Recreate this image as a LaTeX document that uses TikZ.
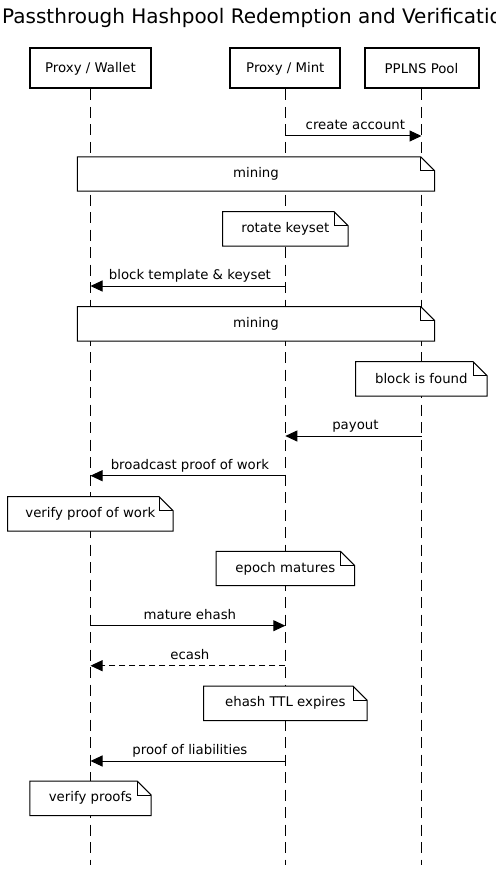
\documentclass[tikz,border=0pt]{standalone}
\usepackage{fontspec}
\setmainfont{DejaVu Sans}
\usetikzlibrary{arrows.meta, positioning, calc}
\newcommand{\msgfont}{\fontsize{13.3}{16}\selectfont}
\tikzset{
  actor/.style={rectangle,draw=black,line width=2pt,minimum height=40pt,inner sep=0pt,font=\msgfont},
  lifeline/.style={draw=black,line width=1pt,dash pattern=on 11pt off 6.5pt},
  note/.style={rectangle,inner sep=0pt,minimum height=34pt,font=\msgfont},
  notebox/.style={draw=black,line width=1pt,fill=white},
  msg/.style={line width=1pt,-{Triangle[length=12pt,width=11pt]}},
  reply/.style={msg,dash pattern=on 6pt off 4pt},
  msglabel/.style={midway,above=3pt,xshift=2pt,inner sep=0pt,text height=10pt,text depth=3pt,font=\msgfont},
}
\pgfdeclarelayer{back}
\pgfdeclarelayer{mid}
\pgfsetlayers{back,mid,main}

\begin{document}
\begin{tikzpicture}[x=1pt,y=-1pt]
	\useasboundingbox (0,0) rectangle (495,869);
	\node[anchor=base west,inner sep=0pt,font=\fontsize{20}{24}\selectfont] (title) at (2,24) {Passthrough Hashpool Redemption and Verification};
	% participants
	\node[actor,minimum width=121pt] (wallet) at (90.5,68.5) {Proxy / Wallet};
	\node[actor,minimum width=109.7pt] (mint) at (285.3,68.5) {Proxy / Mint};
	\node[actor,minimum width=114pt] (pool) at (421.5,68.5) {PPLNS Pool};
	\begin{pgfonlayer}{back}
	\foreach \p in {wallet,mint,pool}{
	    \coordinate (\p-end) at (\p.south |- 0,865);
	    \draw[lifeline] (\p.south) -- (\p-end);
	}
	\end{pgfonlayer}
	% notes
	\node[note,minimum width=357pt] (mining1) at (256,174) {mining};
	\node[note,minimum width=125pt] (rotate) at (285.3,228.8) {rotate keyset};
	\node[note,minimum width=357pt] (mining2) at (256,323.8) {mining};
	\node[note,minimum width=131pt] (found) at (421.3,378.8) {block is found};
	\node[note,minimum width=165pt] (verifypow) at (90.3,513.8) {verify proof of work};
	\node[note,minimum width=138pt] (epoch) at (285.3,568.5) {epoch matures};
	\node[note,minimum width=163pt] (ttl) at (285.3,703.3) {ehash TTL expires};
	\node[note,minimum width=121pt] (verifyproofs) at (90.5,798.3) {verify proofs};
	\begin{pgfonlayer}{mid}
	\foreach \n in {mining1,rotate,mining2,found,verifypow,epoch,ttl,verifyproofs}{
	    \draw[notebox] (\n.north west) -- ([xshift=-14pt]\n.north east) -- ([yshift=-14pt]\n.north east) -- (\n.south east) -- (\n.south west) -- cycle;
	    \draw[notebox,fill=none] ([xshift=-14pt]\n.north east) |- ([yshift=-14pt]\n.north east);
	}
	\end{pgfonlayer}
	% messages
	\draw[msg] (mint |- 0,136) -- node[msglabel] {create account} (pool |- 0,136);
	\draw[msg] (mint |- 0,286) -- node[msglabel] {block template \& keyset} (wallet |- 0,286);
	\draw[msg] (pool |- 0,436) -- node[msglabel] {payout} (mint |- 0,436);
	\draw[msg] (mint |- 0,475.7) -- node[msglabel] {broadcast proof of work} (wallet |- 0,475.7);
	\draw[msg] (wallet |- 0,625.7) -- node[msglabel] {mature ehash} (mint |- 0,625.7);
	\draw[reply] (mint |- 0,665.7) -- node[msglabel] {ecash} (wallet |- 0,665.7);
	\draw[msg] (mint |- 0,761) -- node[msglabel] {proof of liabilities} (wallet |- 0,761);
\end{tikzpicture}
\end{document}
